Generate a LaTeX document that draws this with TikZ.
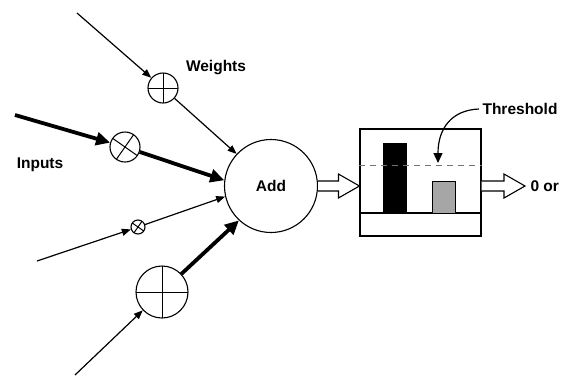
\documentclass[tikz,border=0pt]{standalone}
\usepackage{fontspec}
\setmainfont{Liberation Sans}
\usetikzlibrary{arrows.meta,calc,positioning}
\tikzset
{
    weight/.style     = {circle, draw=black, line width=1.1pt, inner sep=0pt, minimum size=#1,
                         path picture={\draw[line width=1pt] (path picture bounding box.north) -- (path picture bounding box.south)
                                       (path picture bounding box.west) -- (path picture bounding box.east);}},
    tiltweight/.style = {circle, draw=black, line width=1.1pt, inner sep=0pt, minimum size=#1,
                         path picture={\draw[line width=1pt]
                                       ($(path picture bounding box.center)+(55:20pt)$) -- ($(path picture bounding box.center)+(235:20pt)$)
                                       ($(path picture bounding box.center)+(145:20pt)$) -- ($(path picture bounding box.center)+(325:20pt)$);}},
    summer/.style     = {circle, draw=black, line width=1.1pt, minimum size=93pt, inner sep=0pt},
    label/.style      = {font=\fontsize{15.5}{18}\selectfont\bfseries},
    thin link/.style  = {line width=1.2pt, -{Triangle[length=9pt, width=7pt]}},
    thick link/.style = {line width=3.8pt, -{Triangle[length=14pt, width=13pt]}}
}
\newcommand{\blockarrow}[2]{\draw[line width=1.1pt, fill=white] ($(#1)+(0,-5)$) -- ($(#2)+(-21,-5)$) -- ($(#2)+(-21,-12)$) -- (#2) -- ($(#2)+(-21,12)$) -- ($(#2)+(-21,5)$) -- ($(#1)+(0,5)$);}

\begin{document}
\begin{tikzpicture}[x=1pt, y=-1pt]
\useasboundingbox (0,0) rectangle (573,376);

\node (add)   [summer, label]           at (271,186)  {Add};
\node (w1)    [weight=30pt]             at (163,88)   {};
\node (w2)    [tiltweight=30pt]         at (125,147)  {};
\node (w3)    [tiltweight=14pt]         at (138,227)  {};
\node (w4)    [weight=52pt]             at (162,292)  {};
\coordinate (in1) at (77,13);
\coordinate (in2) at (15,115);
\coordinate (in3) at (37,261);
\coordinate (in4) at (75,375);
\node (wl)    [label]                   at (216,68)   {Weights};
\node (il)    [label]                   at (40,165)   {Inputs};

\path
(in1)   edge[thin link]     (w1)
(in2)   edge[thick link]    (w2)
(in3)   edge[thin link]     (w3)
(in4)   edge[thin link]     (w4)
(w1)    edge[thin link]     (add.137)
(w2)    edge[thick link]    (add.173)
(w3)    edge[thin link]     (add.193)
(w4)    edge[thick link]    (add.227);

%% threshold unit
\node (unit)  [draw=black, line width=1.1pt, minimum width=121pt, minimum height=107pt, inner sep=0pt] at (420.5,182.5) {};
\draw[line width=1.1pt] (unit.west |- 0,213) -- (unit.east |- 0,213);
\fill[black] (383,143) rectangle (407,213);
\draw[line width=1pt, fill=black!35] (432,181) rectangle (455,213);
\draw[dashed, line width=1pt, black!55, dash pattern=on 6pt off 5pt] (unit.west |- 0,165) -- (unit.east |- 0,165);
\node (tl)    [label]                   at (520,109)  {Threshold};
\draw[line width=1.2pt, -{Triangle[length=10pt, width=9pt]}] (tl.west) .. controls (452,110) and (438,128) .. (438,163);

%% block arrows
\coordinate (a1) at (add.east -| unit.west);
\coordinate (b0) at (add.east -| unit.east);
\coordinate (b1) at (525,186);
\blockarrow{add.east}{a1}
\blockarrow{b0}{b1}
\node (res)   [label, anchor=west]      at (527,186)  {0 or};
\end{tikzpicture}
\end{document}
